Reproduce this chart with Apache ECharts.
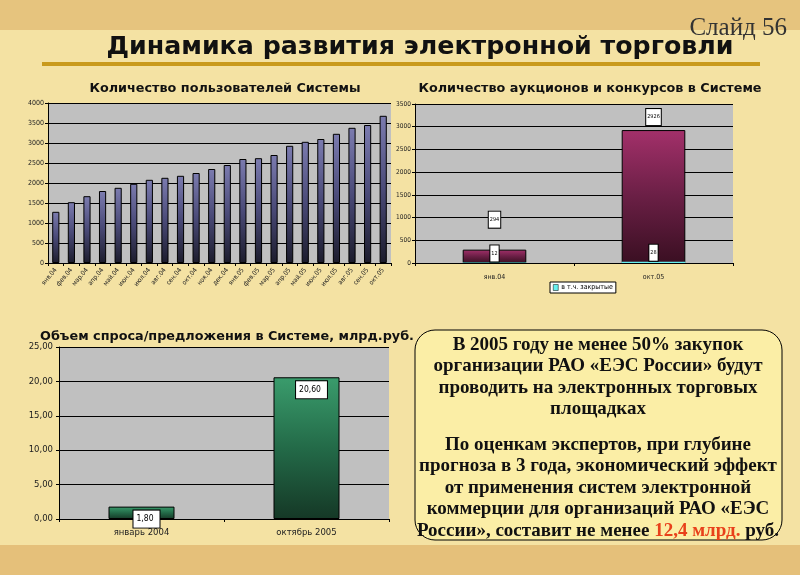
<!DOCTYPE html>
<html><head><meta charset="utf-8">
<script src="https://cdn.jsdelivr.net/npm/echarts@6/dist/echarts.min.js"></script>
<style>html,body{margin:0;padding:0;}#c{width:800px;height:575px;}</style>
</head><body><div id="c"></div>
<script>
// ---- data ----
const userMonths = ['янв.04','фев.04','мар.04','апр.04','май.04','июн.04','июл.04','авг.04','сен.04','окт.04','ноя.04','дек.04','янв.05','фев.05','мар.05','апр.05','май.05','июн.05','июл.05','авг.05','сен.05','окт.05'];
const userCounts = [1280,1520,1670,1800,1880,1980,2080,2130,2180,2250,2350,2450,2600,2620,2700,2930,3030,3100,3230,3380,3450,3680];

const auctionCats = ['янв.04','окт.05'];
const auctionTotal = [294,2926];
const auctionClosed = [12,28];
const closedName = 'в т.ч. закрытые';

const volumeCats = ['январь 2004','октябрь 2005'];
const volumeValues = [1.80,20.60];

const para1 = ['В 2005 году не менее 50% закупок','организации РАО «ЕЭС России» будут','проводить на электронных торговых','площадках'];
const para2a = ['По оценкам экспертов, при глубине','прогноза в 3 года, экономический эффект','от применения систем электронной','коммерции для организаций РАО «ЕЭС'];
const para2last = ['России», составит не менее ','12,4 млрд.',' руб.'];

// ---- helpers ----
const grad = (a,b,c) => ({type:'linear',x:0,y:0,x2:0,y2:1,colorStops:[{offset:0,color:a},{offset:0.5,color:b},{offset:1,color:c}]});
const narrow = "'Liberation Sans Narrow','DejaVu Sans Condensed',sans-serif";
const axisCommon = {
  axisLine:{show:true,lineStyle:{color:'#000',width:1}},
  axisTick:{show:true,length:3,lineStyle:{color:'#000'}},
};
const boxLabel = {backgroundColor:'#fff',borderColor:'#000',borderWidth:1,color:'#000'};
const comma2 = v => v.toFixed(2).replace('.',',');
const plain = v => String(v);

const chart = echarts.init(document.getElementById('c'));
const serif = "'Liberation Serif','DejaVu Serif',serif";
const txtStyle = {fontFamily:serif,fontSize:19,fontWeight:'bold',lineHeight:21.5};
const subFont = {fontFamily:"'DejaVu Sans',sans-serif",fontSize:12.8,fontWeight:'bold',color:'#111'};

chart.setOption({
  backgroundColor:'#f4e2a3',
  animation:false,
  graphic:[
    {type:'rect',shape:{x:0,y:0,width:800,height:30},style:{fill:'#e6c47e'},z:-10},
    {type:'rect',shape:{x:0,y:545,width:800,height:30},style:{fill:'#e5c07a'},z:-10},
    {type:'rect',shape:{x:42,y:62,width:718,height:4},style:{fill:'#c99a1c'}},
    {type:'text',x:420,y:47,style:{text:'Динамика развития электронной торговли',align:'center',verticalAlign:'middle',font:"bold 25.3px 'DejaVu Sans',sans-serif",fill:'#111'}},
    {type:'text',x:787,y:28,style:{text:'Слайд 56',align:'right',verticalAlign:'middle',font:"25px 'Liberation Serif',serif",fill:'#333'}},
    {type:'rect',shape:{x:415,y:330,width:367,height:210,r:20},style:{fill:'#fbeea6',stroke:'#000',lineWidth:1}},
    {type:'text',x:598,y:334,style:{text:para1.join('\n'),align:'center',verticalAlign:'top',fill:'#111',font:"bold 19px 'Liberation Serif',serif",lineHeight:21.5}},
    {type:'text',x:598,y:434,style:{
      text:para2a.map(s=>'{n|'+s+'}').join('\n')+'\n{n|'+para2last[0]+'}{r|'+para2last[1]+'}{n|'+para2last[2]+'}',
      align:'center',verticalAlign:'top',
      rich:{n:Object.assign({fill:'#111'},txtStyle),r:Object.assign({fill:'#e8401a'},txtStyle)}
    }}
  ],
  title:[
    {text:'Количество пользователей Системы',left:220,top:77,textAlign:'center',textStyle:subFont},
    {text:'Количество аукционов и конкурсов в Системе',left:585,top:77,textAlign:'center',textStyle:subFont},
    {text:'Объем спроса/предложения в Системе, млрд.руб.',left:222,top:325,textAlign:'center',textStyle:subFont}
  ],
  legend:{
    data:[closedName],left:550,top:282,backgroundColor:'#fff',borderColor:'#000',borderWidth:1,
    padding:[2,3],itemWidth:5,itemHeight:6,itemGap:2,
    textStyle:{fontSize:7,fontFamily:narrow,color:'#000',padding:[0,0,0,-2]},
    icon:'rect',itemStyle:{borderColor:'#000',borderWidth:0.5}
  },
  grid:[
    {left:48,top:103,width:343,height:160,show:true,backgroundColor:'#c0c0c0',borderWidth:0},
    {left:415,top:104,width:318,height:159,show:true,backgroundColor:'#c0c0c0',borderWidth:0},
    {left:59,top:347,width:330,height:172,show:true,backgroundColor:'#c0c0c0',borderWidth:0}
  ],
  xAxis:[
    Object.assign({type:'category',gridIndex:0,data:userMonths,
      axisLabel:{interval:0,rotate:50,fontSize:6.5,fontFamily:narrow,color:'#222',margin:6},
      axisTick:{show:true,length:3,interval:0,lineStyle:{color:'#000'}}},{axisLine:axisCommon.axisLine}),
    Object.assign({type:'category',gridIndex:1,data:auctionCats,
      axisLabel:{fontSize:7,fontFamily:narrow,color:'#222',margin:11}},axisCommon),
    Object.assign({type:'category',gridIndex:2,data:volumeCats,
      axisLabel:{fontSize:8.5,fontFamily:"'DejaVu Sans',sans-serif",color:'#222',margin:9}},axisCommon)
  ],
  yAxis:[
    Object.assign({type:'value',gridIndex:0,min:0,max:4000,interval:500,
      axisLabel:{fontSize:7,fontFamily:narrow,color:'#222',margin:4,formatter:plain},
      splitLine:{lineStyle:{color:'#000',width:1}}},axisCommon),
    Object.assign({type:'value',gridIndex:1,min:0,max:3500,interval:500,
      axisLabel:{fontSize:6.5,fontFamily:narrow,color:'#222',margin:4,formatter:plain},
      splitLine:{lineStyle:{color:'#000',width:1}}},axisCommon),
    Object.assign({type:'value',gridIndex:2,min:0,max:25,interval:5,
      axisLabel:{fontSize:8.5,fontFamily:"'DejaVu Sans',sans-serif",color:'#222',margin:6,formatter:comma2},
      splitLine:{lineStyle:{color:'#000',width:1}}},axisCommon)
  ],
  series:[
    {type:'bar',name:'Пользователи',xAxisIndex:0,yAxisIndex:0,data:userCounts,barWidth:'46%',
      itemStyle:{color:grad('#7c7cb0','#4a4a78','#1c1c2c'),borderColor:'#000',borderWidth:1}},
    {type:'bar',name:'Всего',xAxisIndex:1,yAxisIndex:1,barWidth:'40%',barGap:'-100%',
      data:auctionTotal.map((v,i)=>({value:v,label:{offset:i===0?[0,-17]:[0,0]}})),
      itemStyle:{color:grad('#a3306a','#6a1f45','#3a0f22'),borderColor:'#000',borderWidth:1},
      label:Object.assign({show:true,position:'top',fontSize:5.5,fontFamily:narrow,padding:[5,1]},boxLabel)},
    {type:'bar',name:closedName,xAxisIndex:1,yAxisIndex:1,barWidth:'40%',barGap:'-100%',data:auctionClosed,
      itemStyle:{color:'#66f0f0'},
      label:Object.assign({show:true,position:'top',distance:1,fontSize:5.5,fontFamily:narrow,padding:[5,1]},boxLabel)},
    {type:'bar',name:'Объем',xAxisIndex:2,yAxisIndex:2,data:volumeValues,barWidth:'40%',
      itemStyle:{color:grad('#3a9c6c','#236a48','#153826'),borderColor:'#000',borderWidth:1},
      label:Object.assign({show:true,position:'insideTop',distance:4,offset:[5,0],fontSize:8.5,fontFamily:narrow,padding:[4,6,4,3],formatter:p=>comma2(p.value)},boxLabel)}
  ]
});
</script></body></html>
